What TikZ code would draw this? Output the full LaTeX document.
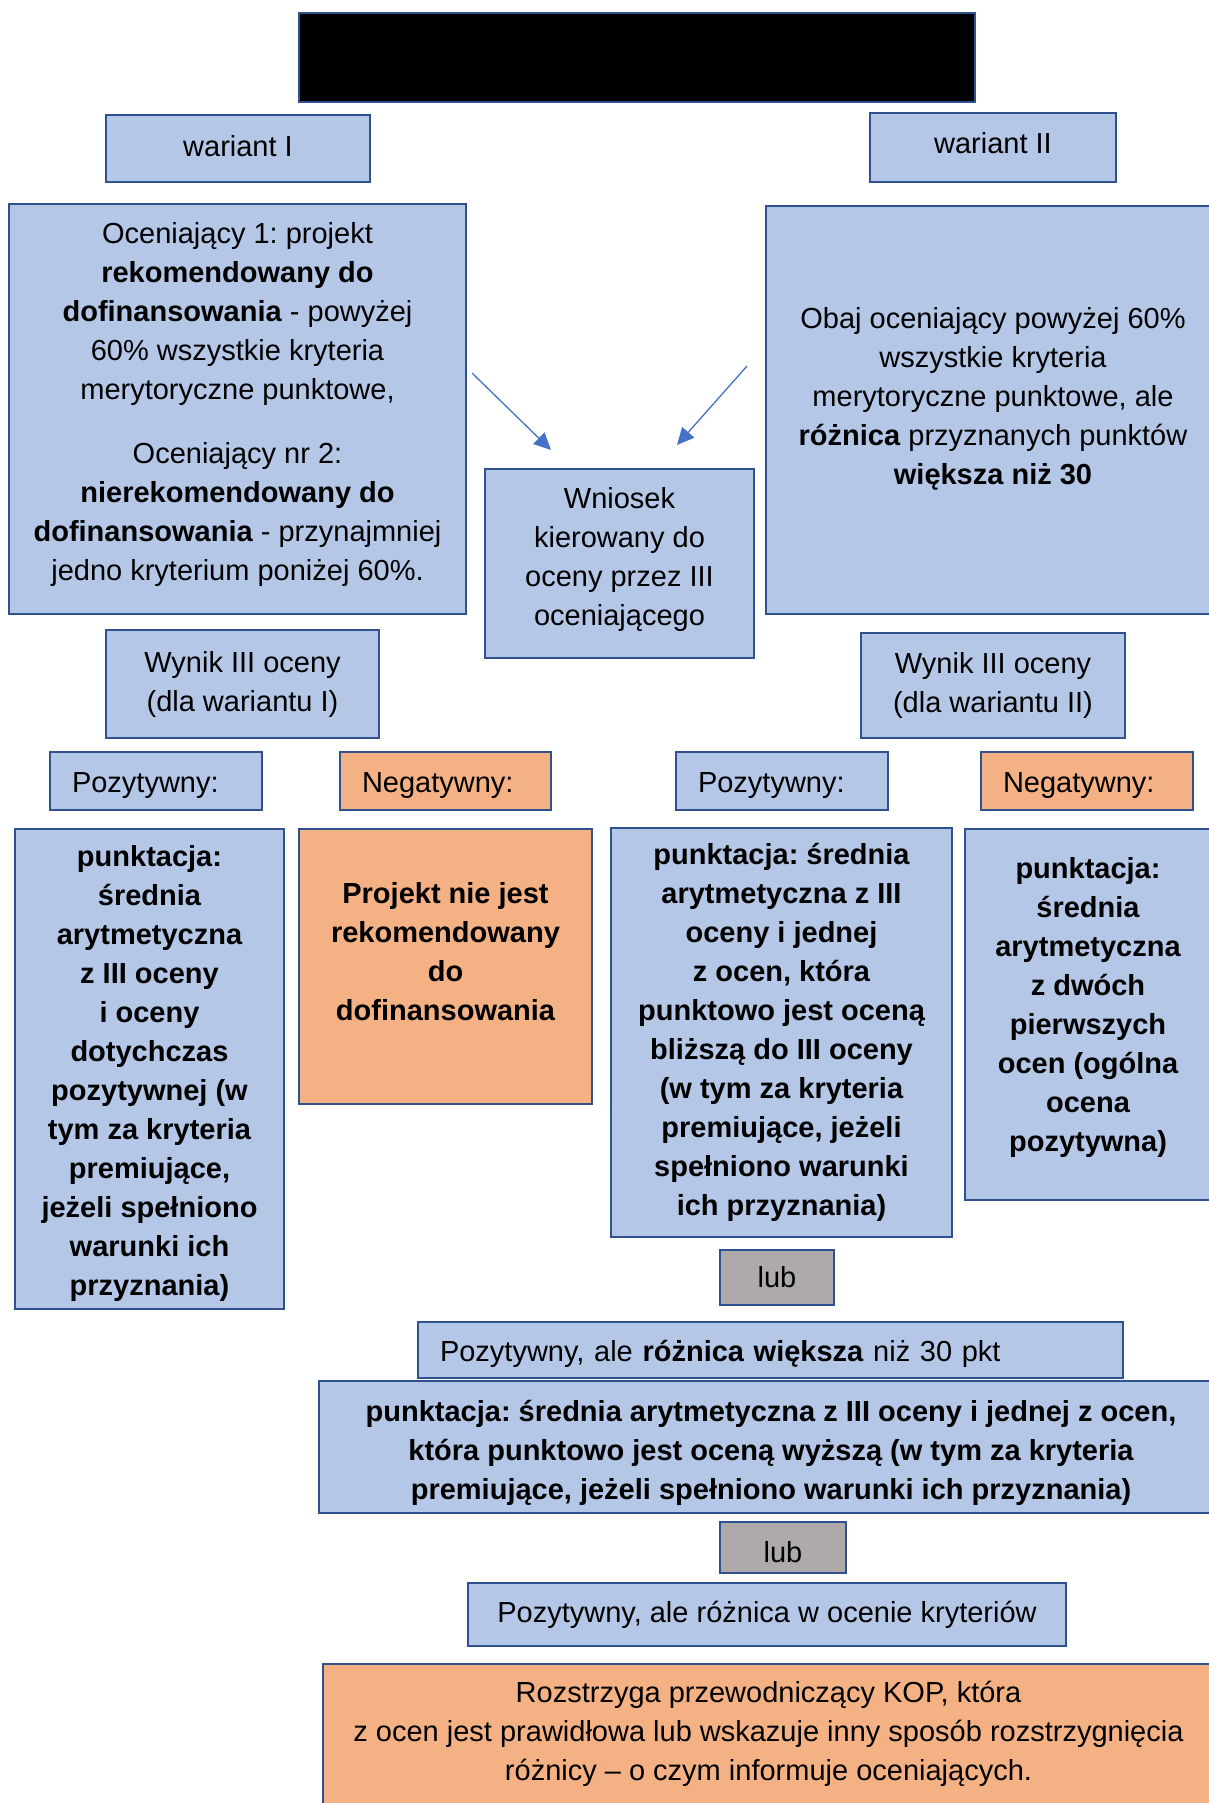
\documentclass[tikz,border=0pt]{standalone}
\usepackage{fontspec}
\setmainfont{Liberation Sans}
\usepackage{tikz}
\usetikzlibrary{arrows.meta}

\definecolor{boxblue}{HTML}{B4C7E7}
\definecolor{boxline}{HTML}{2F528F}
\definecolor{boxorange}{HTML}{F4B183}
\definecolor{boxgray}{HTML}{AEAAAA}
\definecolor{arrowblue}{HTML}{4472C4}

% invisible struts to nudge text up or down inside a box
\newcommand{\botgap}[1]{\rule[-#1pt]{0pt}{#1pt}}
\newcommand{\topgap}[1]{\rule{0pt}{#1pt}}

\tikzset{
  box/.style={draw=boxline, line width=2pt, fill=boxblue, align=center, inner sep=0pt,
    font=\fontsize{29}{39}\selectfont},
  boldbox/.style={box, font=\fontsize{29}{39}\selectfont\bfseries},
  negbox/.style={box, fill=boxorange},
  lubbox/.style={box, fill=boxgray},
  lefttext/.style={align=left, inner xsep=22pt, text width=#1},
  arr/.style={draw=arrowblue, line width=1.3pt, -{Triangle[length=17pt,width=16pt]}}
}

\begin{document}
\frenchspacing
\begin{tikzpicture}[x=1pt, y=-1pt]
\useasboundingbox (0,0) rectangle (1209,1803);
\clip (0,0) rectangle (1209,1803);
%%% Top part
% title bar
\node[box, fill=black, minimum width=676pt, minimum height=89pt] (title) at (637,57.5) {};
% variants
\node[box, minimum width=264pt, minimum height=67pt] (war1) at (238,148.5) {wariant I\botgap{5}};
\node[box, minimum width=246pt, minimum height=69pt] (war2) at (993,147.5) {wariant II\botgap{9}};
% conditions
\node[box, minimum width=457pt, minimum height=410pt] (oc1) at (237.5,409) {Oceniający 1: projekt\\
  \textbf{rekomendowany do}\\
  \textbf{dofinansowania} - powyżej\\
  60\% wszystkie kryteria\\
  merytoryczne punktowe,\\[25pt]
  Oceniający nr 2:\\
  \textbf{nierekomendowany do}\\
  \textbf{dofinansowania} - przynajmniej\\
  jedno kryterium poniżej 60\%.\botgap{15}};
\node[box, minimum width=454pt, minimum height=408pt] (oc2) at (993,410) {Obaj oceniający powyżej 60\%\\
  wszystkie kryteria\\
  merytoryczne punktowe, ale\\
  \textbf{różnica} przyznanych punktów\\
  \textbf{większa niż 30}\botgap{29}};
\node[box, minimum width=269pt, minimum height=189pt] (wniosek) at (619.5,563.5) {Wniosek\\kierowany do\\oceny przez III\\oceniającego\botgap{15}};
% arrows
\coordinate (a1s) at (472,373);
\coordinate (a1e) at (551,450);
\coordinate (a2s) at (747,366);
\coordinate (a2e) at (677,445);
\draw[arr] (a1s) -- (a1e);
\draw[arr] (a2s) -- (a2e);
%%% Results
\node[box, minimum width=273pt, minimum height=108pt] (wyn1) at (242.5,684) {Wynik III oceny\\(dla wariantu I)};
\node[box, minimum width=264pt, minimum height=105pt] (wyn2) at (993,685.5) {Wynik III oceny\\(dla wariantu II)};
\node[box, lefttext=168pt, minimum width=212pt, minimum height=58pt] (poz1) at (156,781) {\topgap{30}Pozytywny:};
\node[negbox, lefttext=167pt, minimum width=211pt, minimum height=58pt] (neg1) at (445.5,781) {\topgap{30}Negatywny:};
\node[box, lefttext=168pt, minimum width=212pt, minimum height=58pt] (poz2) at (782,781) {\topgap{30}Pozytywny:};
\node[negbox, lefttext=168pt, minimum width=212pt, minimum height=58pt] (neg2) at (1087,781) {\topgap{30}Negatywny:};
% scoring
\node[boldbox, minimum width=269pt, minimum height=480pt] (pkt1) at (149.5,1069) {\topgap{30}punktacja:\\średnia\\arytmetyczna\\z III oceny\\i oceny\\dotychczas\\pozytywnej (w\\tym za kryteria\\premiujące,\\jeżeli spełniono\\warunki ich\\przyznania)};
\node[negbox, minimum width=293pt, minimum height=275pt, font=\fontsize{29}{39}\selectfont\bfseries] (proj) at (445.5,966.5) {Projekt nie jest\\rekomendowany\\do\\dofinansowania\botgap{30}};
\node[boldbox, minimum width=341pt, minimum height=409pt] (pkt2) at (781.5,1032.5) {punktacja: średnia\\arytmetyczna z III\\oceny i jednej\\z ocen, która\\punktowo jest oceną\\bliższą do III oceny\\(w tym za kryteria\\premiujące, jeżeli\\spełniono warunki\\ich przyznania)};
\node[boldbox, minimum width=246pt, minimum height=371pt] (pkt3) at (1088,1014.5) {punktacja:\\średnia\\arytmetyczna\\z dwóch\\pierwszych\\ocen (ogólna\\ocena\\pozytywna)\botgap{20}};
%%% Lower part
\node[lubbox, minimum width=114pt, minimum height=55pt] (lub1) at (777,1277.5) {lub};
\node[box, lefttext=661pt, minimum width=705pt, minimum height=56pt] (roz1) at (770.5,1350) {\topgap{28}Pozytywny, ale \textbf{różnica większa} niż 30 pkt};
\node[boldbox, minimum width=904pt, minimum height=132pt] (pkt4) at (771,1447) {\topgap{32}punktacja: średnia arytmetyczna z III oceny i jednej z ocen,\\która punktowo jest oceną wyższą (w tym za kryteria\\premiujące, jeżeli spełniono warunki ich przyznania)};
\node[lubbox, minimum width=126pt, minimum height=51pt] (lub2) at (783,1547.5) {\topgap{30}lub};
\node[box, minimum width=598pt, minimum height=63pt] (roz2) at (767,1614.5) {Pozytywny, ale różnica w ocenie kryteriów};
\node[negbox, minimum width=891pt, minimum height=140pt] (kop) at (768.5,1734) {Rozstrzyga przewodniczący KOP, która\\z ocen jest prawidłowa lub wskazuje inny sposób rozstrzygnięcia\\różnicy -- o czym informuje oceniających.};
\end{tikzpicture}
\end{document}
